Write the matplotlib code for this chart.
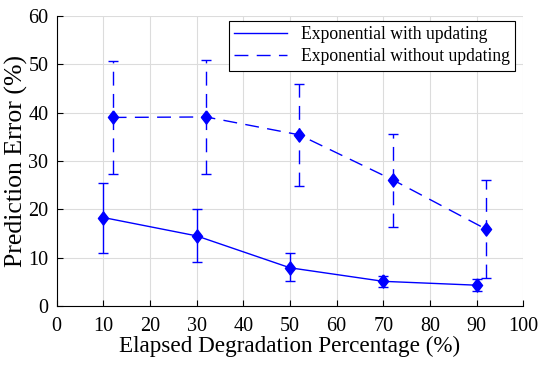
import numpy as np
import matplotlib
matplotlib.use('Agg')
import matplotlib.pyplot as plt
from matplotlib.lines import Line2D

# data
x_upd = [10, 30, 50, 70, 90]
y_upd = [18.3, 14.5, 7.9, 5.1, 4.3]
upd_hi = [25.5, 20.0, 10.9, 6.3, 5.6]
upd_lo = [11.0, 9.0, 5.1, 3.9, 3.0]

x_noupd = [12, 32, 52, 72, 92]
y_noupd = [39.0, 39.1, 35.4, 26.1, 15.9]
noupd_hi = [50.6, 50.9, 46.0, 35.6, 26.1]
noupd_lo = [27.3, 27.3, 24.8, 16.4, 5.7]

plt.rcParams['font.family'] = ['Liberation Serif', 'DejaVu Serif']

fig = plt.figure(figsize=(5.5, 3.7), dpi=100)
ax = fig.add_axes([0.103, 0.173, 0.8485, 0.784])

blue = (0, 0, 1)
dash = (0, (10, 6))
# diamond a bit taller than wide, as in the picture
diamond = [(0, 1.3), (1, 0), (0, -1.3), (-1, 0), (0, 1.3)]

y1 = np.array(y_upd)
err1 = [y1 - np.array(upd_lo), np.array(upd_hi) - y1]
ax.errorbar(x_upd, y_upd, yerr=err1, color=blue, linestyle='-', linewidth=1.0,
            marker=diamond, markersize=9.5, capsize=3.8, elinewidth=1.0, capthick=1.0)

y2 = np.array(y_noupd)
err2 = [y2 - np.array(noupd_lo), np.array(noupd_hi) - y2]
eb = ax.errorbar(x_noupd, y_noupd, yerr=err2, color=blue, linestyle=dash, linewidth=1.0,
                 marker=diamond, markersize=9.5, capsize=3.8, elinewidth=1.0, capthick=1.0)
eb[2][0].set_linestyle(dash)

ax.set_xlim(0, 100)
ax.set_ylim(0, 60)
ax.set_xticks(np.arange(0, 101, 10))
ax.set_yticks(np.arange(0, 61, 10))
ax.tick_params(direction='in', labelsize=14.5, length=4, width=0.8)
ax.tick_params(axis='x', pad=8)
ax.tick_params(axis='y', pad=6)
ax.grid(True, color='#dcdcdc', linewidth=0.8)
ax.set_axisbelow(True)
ax.spines['top'].set_visible(False)
ax.spines['right'].set_visible(False)

ax.set_xlabel('Elapsed Degradation Percentage (%)', fontsize=16.7, labelpad=0)
ax.set_ylabel('Prediction Error (%)', fontsize=18.5, labelpad=0)

# legend shows lines only
handles = [Line2D([], [], color=blue, linewidth=1.0, linestyle='-'),
           Line2D([], [], color=blue, linewidth=1.0, linestyle=dash)]
leg = ax.legend(handles, ['Exponential with updating', 'Exponential without updating'],
                loc='upper right', fontsize=12.7, frameon=True, fancybox=False,
                edgecolor='black', framealpha=1, borderpad=0.3, handlelength=3.0,
                labelspacing=0.3, bbox_to_anchor=(0.99, 0.995), borderaxespad=0.2)
leg.get_frame().set_linewidth(0.8)

fig.savefig('out.png', dpi=100)
